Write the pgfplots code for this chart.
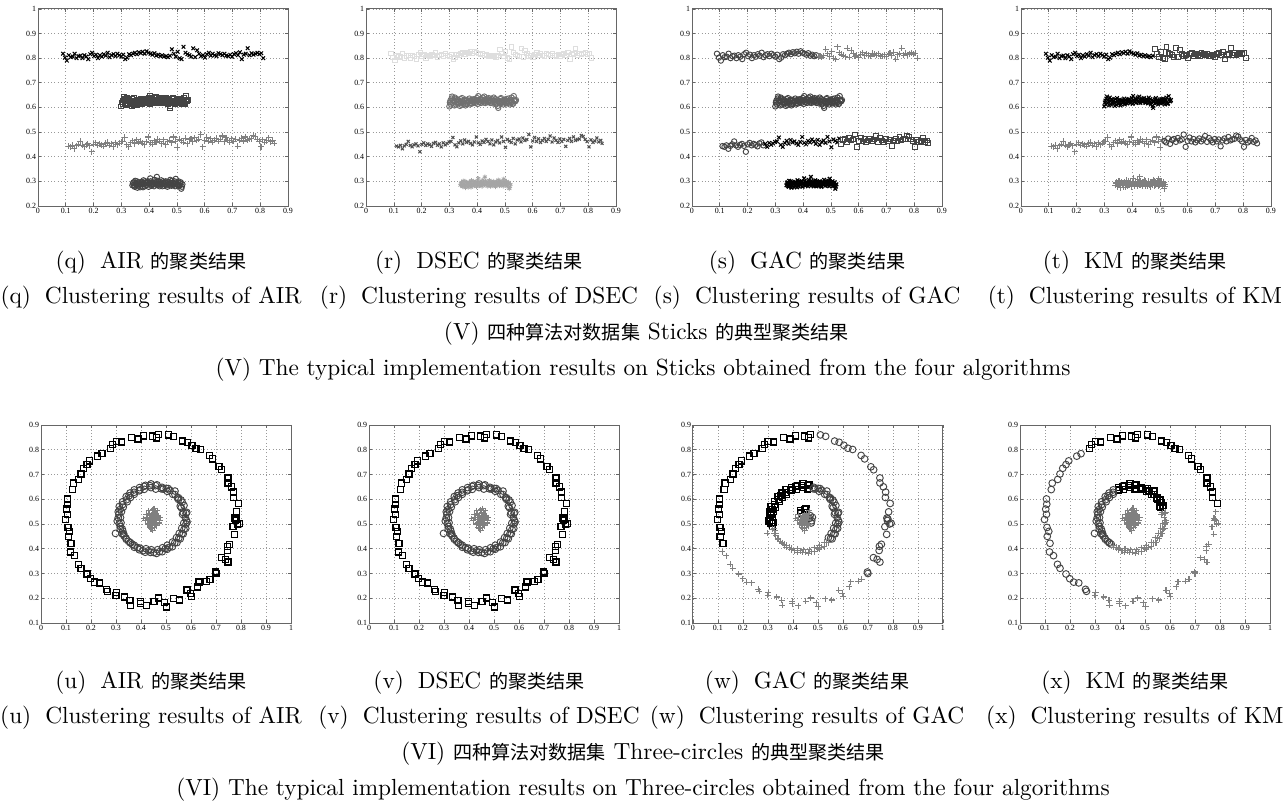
\documentclass[border=0pt]{standalone}
\usepackage{fontspec}
\usepackage{pgfplots}
\usepackage{pgfplotstable}
\pgfplotsset{compat=1.18}
\newfontfamily\cjk[Scale=0.82]{Noto Sans CJK SC}
\newfontfamily\tickfont{Liberation Serif}
\definecolor{cdk}{RGB}{68,68,68}
\definecolor{cmd}{RGB}{128,128,128}
\definecolor{clt}{RGB}{222,222,222}
\definecolor{cdm}{RGB}{112,112,112}
\definecolor{cdx}{RGB}{80,80,80}
\definecolor{cas}{RGB}{165,165,165}

\pgfplotstableread{
x y
.090 .818
.097 .802
.104 .790
.111 .812
.118 .804
.125 .806
.132 .818
.139 .800
.146 .808
.153 .810
.160 .800
.167 .812
.174 .806
.181 .796
.188 .816
.195 .822
.202 .808
.209 .814
.216 .800
.223 .812
.230 .806
.237 .816
.244 .810
.251 .822
.258 .804
.265 .812
.272 .816
.279 .808
.286 .818
.293 .812
.300 .806
.307 .814
.314 .796
.321 .802
.328 .816
.335 .812
.342 .818
.349 .822
.356 .816
.363 .824
.370 .820
.377 .826
.384 .818
.391 .828
.398 .822
.405 .818
.412 .814
.419 .820
.426 .810
.433 .814
.440 .808
.447 .812
.454 .806
.461 .808
.468 .804
.475 .810
.482 .836
.489 .818
.496 .806
.503 .826
.510 .800
.517 .796
.524 .846
.531 .822
.538 .816
.545 .812
.552 .806
.559 .840
.566 .804
.573 .832
.580 .818
.587 .808
.594 .812
.601 .802
.608 .816
.615 .822
.622 .810
.629 .818
.636 .812
.643 .808
.650 .820
.657 .816
.664 .812
.671 .818
.678 .810
.685 .808
.692 .814
.699 .806
.706 .816
.713 .820
.720 .812
.727 .824
.734 .796
.741 .814
.748 .818
.755 .840
.762 .812
.769 .820
.776 .814
.783 .818
.790 .822
.797 .816
.804 .820
.811 .800
}\sA

\pgfplotstableread{
x y
.300 .604
.304 .628
.308 .636
.312 .618
.316 .624
.320 .640
.324 .612
.328 .630
.332 .622
.336 .616
.340 .634
.344 .610
.348 .626
.352 .620
.356 .632
.360 .614
.364 .628
.368 .622
.372 .636
.376 .618
.380 .626
.384 .632
.388 .620
.392 .630
.396 .624
.400 .638
.404 .646
.408 .622
.412 .634
.416 .628
.420 .640
.424 .620
.428 .632
.432 .626
.436 .636
.440 .624
.444 .630
.448 .618
.452 .634
.456 .626
.460 .640
.464 .622
.468 .612
.472 .630
.476 .598
.480 .626
.484 .634
.488 .618
.492 .628
.496 .622
.500 .632
.504 .616
.508 .626
.512 .636
.516 .620
.520 .628
.524 .640
.528 .614
.532 .646
.536 .624
.540 .630
.302 .620
.306 .612
.310 .644
.314 .630
.318 .608
.322 .626
.326 .634
.330 .616
.334 .628
.338 .606
.342 .622
.346 .638
.350 .614
.354 .626
.358 .608
.362 .630
.366 .618
.370 .626
.374 .612
.378 .630
.382 .616
.386 .628
.390 .634
.394 .618
.398 .628
.402 .614
.406 .630
.410 .624
.414 .618
.418 .632
.422 .626
.426 .644
.430 .618
.434 .630
.438 .622
.442 .638
.446 .626
.450 .620
.454 .632
.458 .616
.462 .628
.466 .634
.470 .620
.474 .606
.478 .624
.482 .616
.486 .638
.490 .622
.494 .612
.498 .628
.502 .620
.506 .634
.510 .618
.514 .626
.518 .612
.522 .630
.526 .622
.530 .616
.534 .632
.538 .626
}\sB

\pgfplotstableread{
x y
.110 .443
.117 .440
.124 .446
.131 .432
.138 .444
.145 .450
.152 .462
.159 .446
.166 .440
.173 .448
.180 .452
.187 .444
.194 .420
.201 .450
.208 .456
.215 .446
.222 .452
.229 .448
.236 .442
.243 .454
.250 .458
.257 .446
.264 .452
.271 .440
.278 .456
.285 .448
.292 .454
.299 .460
.306 .462
.313 .478
.320 .448
.327 .440
.334 .456
.341 .464
.348 .452
.355 .468
.362 .458
.369 .462
.376 .454
.383 .448
.390 .460
.397 .480
.404 .456
.411 .450
.418 .464
.425 .458
.432 .470
.439 .462
.446 .452
.453 .468
.460 .448
.467 .460
.474 .466
.481 .456
.488 .480
.495 .462
.502 .438
.509 .470
.516 .464
.523 .458
.530 .474
.537 .452
.544 .468
.551 .472
.558 .460
.565 .476
.572 .466
.579 .470
.586 .490
.593 .440
.600 .464
.607 .478
.614 .462
.621 .472
.628 .458
.635 .466
.642 .474
.649 .462
.656 .470
.663 .484
.670 .460
.677 .476
.684 .466
.691 .458
.698 .472
.705 .462
.712 .470
.719 .442
.726 .466
.733 .474
.740 .462
.747 .480
.754 .466
.761 .470
.768 .472
.775 .486
.782 .482
.789 .470
.796 .462
.803 .440
.810 .468
.817 .458
.824 .464
.831 .476
.838 .460
.845 .466
.850 .454
}\sC

\pgfplotstableread{
x y
.340 .284
.344 .296
.348 .278
.352 .290
.356 .300
.360 .282
.364 .292
.368 .276
.372 .298
.376 .288
.380 .304
.384 .280
.388 .294
.392 .286
.396 .300
.400 .290
.404 .312
.408 .282
.412 .296
.416 .288
.420 .306
.424 .292
.428 .318
.432 .284
.436 .298
.440 .290
.444 .304
.448 .280
.452 .294
.456 .288
.460 .300
.464 .284
.468 .296
.472 .290
.476 .306
.480 .282
.484 .294
.488 .288
.492 .300
.496 .310
.500 .286
.504 .296
.508 .280
.512 .292
.516 .270
.520 .288
.342 .292
.346 .282
.350 .302
.354 .286
.358 .274
.362 .296
.366 .288
.370 .282
.374 .294
.378 .276
.382 .290
.386 .300
.390 .284
.394 .296
.398 .278
.402 .292
.406 .300
.410 .286
.414 .294
.418 .280
.422 .296
.426 .286
.430 .302
.434 .290
.438 .280
.442 .296
.446 .288
.450 .300
.454 .282
.458 .296
.462 .290
.466 .278
.470 .298
.474 .286
.478 .294
.482 .302
.486 .284
.490 .292
.494 .280
.498 .296
.502 .288
.506 .300
.510 .284
.514 .296
.518 .278
}\sD

\pgfplotstableread{
x y a g k
.793 .503 1 2 3
.783 .549 1 2 3
.789 .583 1 2 1
.770 .607 1 2 1
.771 .629 1 2 1
.762 .650 1 2 1
.748 .666 1 2 1
.748 .686 1 2 1
.723 .719 1 2 1
.712 .731 1 2 1
.687 .763 1 2 1
.673 .777 1 2 1
.639 .801 1 2 1
.620 .806 1 2 1
.604 .818 1 2 1
.585 .830 1 2 1
.567 .835 1 2 1
.531 .854 1 2 1
.510 .860 1 2 1
.471 .862 1 1 1
.462 .848 1 1 1
.447 .855 1 1 1
.410 .856 1 1 1
.388 .843 1 1 1
.362 .850 1 1 1
.323 .831 1 1 1
.301 .832 1 1 1
.286 .821 1 1 1
.277 .804 1 1 1
.244 .784 1 1 2
.227 .774 1 1 2
.195 .755 1 1 2
.184 .740 1 1 2
.171 .725 1 1 2
.160 .702 1 1 2
.151 .680 1 1 2
.129 .665 1 1 2
.125 .639 1 1 2
.106 .601 1 1 2
.107 .580 1 1 2
.103 .560 1 1 2
.106 .539 1 1 2
.098 .518 1 1 2
.108 .486 1 1 2
.115 .470 1 1 2
.109 .450 1 1 2
.120 .422 1 1 2
.118 .387 1 3 2
.134 .372 1 3 2
.150 .337 1 3 2
.160 .321 1 3 2
.184 .298 1 3 2
.199 .279 1 3 2
.215 .265 1 3 2
.235 .262 1 3 2
.262 .236 1 3 2
.266 .228 1 3 2
.300 .212 1 3 3
.302 .222 1 3 3
.335 .205 1 3 3
.358 .172 1 3 3
.356 .192 1 3 3
.398 .188 1 3 3
.397 .178 1 3 3
.422 .170 1 3 3
.452 .188 1 3 3
.471 .201 1 3 3
.494 .182 1 3 3
.502 .165 1 3 3
.530 .198 1 3 3
.555 .193 1 3 3
.584 .233 1 3 3
.598 .220 1 3 3
.601 .206 1 3 3
.625 .246 1 3 3
.632 .266 1 3 3
.662 .268 1 3 3
.676 .276 1 3 3
.698 .306 1 2 3
.700 .300 1 2 3
.722 .364 1 2 3
.737 .357 1 2 3
.748 .346 1 2 3
.745 .393 1 2 3
.746 .410 1 2 3
.754 .418 1 2 3
.775 .458 1 2 3
.768 .489 1 2 3
.787 .500 1 2 3
.778 .514 1 2 3
.776 .524 1 2 3
.780 .520 1 2 3
.582 .514 2 2 3
.566 .539 2 2 3
.583 .547 2 2 3
.569 .546 2 2 3
.572 .575 2 2 1
.557 .572 2 2 1
.565 .588 2 2 1
.550 .606 2 2 1
.550 .599 2 2 1
.536 .619 2 2 1
.536 .633 2 2 1
.516 .636 2 2 1
.501 .644 2 2 1
.505 .632 2 2 1
.484 .648 2 2 1
.481 .642 2 2 1
.464 .658 2 1 1
.459 .641 2 1 1
.440 .662 2 1 1
.440 .647 2 1 1
.418 .656 2 1 1
.413 .640 2 1 1
.394 .647 2 1 1
.393 .634 2 1 1
.373 .638 2 1 2
.373 .620 2 1 2
.356 .625 2 1 2
.358 .607 2 1 2
.341 .611 2 1 2
.345 .590 2 1 2
.327 .590 2 1 2
.329 .568 2 1 2
.313 .571 2 1 2
.322 .550 2 1 2
.309 .549 2 1 2
.318 .526 2 1 2
.309 .525 2 1 2
.320 .505 2 1 2
.313 .501 2 1 2
.325 .480 2 3 2
.317 .479 2 3 2
.331 .460 2 3 2
.325 .460 2 3 2
.341 .438 2 3 2
.340 .443 2 3 2
.358 .423 2 3 2
.357 .425 2 3 2
.373 .406 2 3 3
.373 .414 2 3 3
.393 .396 2 3 3
.396 .402 2 3 3
.417 .386 2 3 3
.420 .400 2 3 3
.438 .385 2 3 3
.441 .396 2 3 3
.462 .381 2 3 3
.466 .396 2 3 3
.485 .388 2 3 3
.486 .404 2 3 3
.505 .398 2 3 3
.505 .414 2 3 3
.525 .408 2 3 3
.526 .427 2 3 3
.544 .425 2 3 3
.542 .445 2 2 3
.557 .440 2 2 3
.553 .462 2 2 3
.569 .460 2 2 3
.563 .483 2 2 3
.579 .482 2 2 3
.571 .503 2 2 3
.584 .507 2 2 3
.577 .526 2 2 3
.580 .543 2 2 3
.561 .566 2 2 1
.560 .597 2 2 1
.546 .605 2 2 1
.527 .620 2 2 1
.509 .643 2 2 1
.489 .641 2 2 1
.458 .655 2 1 1
.436 .655 2 1 1
.412 .652 2 1 1
.396 .638 2 1 1
.372 .628 2 1 2
.352 .614 2 1 2
.342 .598 2 1 2
.326 .578 2 1 2
.316 .558 2 1 2
.312 .540 2 1 2
.305 .512 2 1 2
.318 .490 2 1 2
.327 .472 2 3 2
.332 .452 2 3 2
.350 .430 2 3 2
.365 .418 2 3 2
.386 .405 2 3 3
.408 .392 2 3 3
.430 .392 2 3 3
.451 .385 2 3 3
.474 .388 2 3 3
.497 .400 2 3 3
.514 .406 2 3 3
.535 .424 2 3 3
.551 .443 2 2 3
.564 .461 2 2 3
.572 .478 2 2 3
.580 .500 2 2 3
.298 .462 2 3 2
.438 .534 3 3 3
.454 .527 3 3 3
.444 .509 3 3 3
.462 .540 3 3 3
.432 .517 3 3 3
.450 .547 3 1 3
.467 .523 3 2 3
.424 .527 3 3 3
.458 .500 3 3 3
.439 .493 3 3 3
.447 .558 3 1 3
.475 .513 3 2 3
.417 .513 3 3 3
.435 .544 3 1 3
.454 .486 3 3 3
.465 .554 3 3 3
.428 .500 3 3 3
.443 .523 3 3 3
.459 .513 3 3 3
.469 .534 3 2 3
.421 .540 3 3 3
.448 .536 3 3 3
.434 .507 3 3 3
.452 .563 3 1 3
.478 .527 3 2 3
.440 .480 3 3 3
.462 .493 3 3 3
.411 .523 3 3 3
.446 .500 3 3 3
.456 .544 3 3 3
.431 .554 3 1 3
.473 .504 3 2 3
.442 .531 3 3 3
.451 .517 3 3 3
.463 .529 3 3 3
.436 .486 3 3 3
.447 .473 3 3 3
.445 .520 3 3 3
.455 .530 3 3 3
.438 .525 3 3 3
.450 .505 3 3 3
.460 .518 3 3 3
}\ring

\pgfplotsset{
  mat/.style={scale only axis, anchor=south west, width=107.3pt,
    grid=major, major grid style={densely dotted, black!40, line width=0.25pt},
    axis line style={black!60, line width=0.35pt},
    tick align=inside, major tick length=1.2pt,
    tick style={black!60, line width=0.25pt},
    ticklabel style={font=\tickfont\fontsize{3.4}{4}\selectfont, inner sep=0.6pt},
    /pgf/number format/assume math mode=true},
  sticks/.style={mat, height=84.6pt, xmin=0, xmax=0.9, ymin=0.2, ymax=1,
    xtick={0,0.1,0.2,0.3,0.4,0.5,0.6,0.7,0.8,0.9},
    ytick={0.2,0.3,0.4,0.5,0.6,0.7,0.8,0.9,1}},
  rings/.style={mat, height=85pt, xmin=0, xmax=1, ymin=0.1, ymax=0.9,
    xtick={0,0.1,0.2,0.3,0.4,0.5,0.6,0.7,0.8,0.9,1},
    ytick={0.1,0.2,0.3,0.4,0.5,0.6,0.7,0.8,0.9}},
  sq/.style={only marks, mark=square, mark size=#1, mark options={line width=0.4pt}},
  sq/.default=1.05pt,
  ci/.style={only marks, mark=o, mark size=#1, mark options={line width=0.4pt}},
  ci/.default=1.15pt,
  xx/.style={only marks, mark=x, mark size=#1, mark options={line width=0.45pt}},
  xx/.default=1.1pt,
  pl/.style={only marks, mark=+, mark size=#1, mark options={line width=0.45pt}},
  pl/.default=1.3pt,
  as/.style={only marks, mark=asterisk, mark size=#1, mark options={line width=0.35pt}},
  as/.default=1.0pt,
  sel/.style={restrict y to domain=0:1},
}

\begin{document}
\begin{tikzpicture}
\useasboundingbox (0,0) rectangle (552.4pt,-345.5pt);

% ---------- Sticks ----------
\begin{axis}[sticks, at={(16.3pt,-88.4pt)}]
\addplot[xx, black] table {\sA};
\addplot[sq, cdk] table {\sB};
\addplot[pl, cmd] table {\sC};
\addplot[ci, cdk] table {\sD};
\end{axis}

\begin{axis}[sticks, at={(157.1pt,-88.4pt)}]
\addplot[sq=0.95pt, clt] table {\sA};
\addplot[ci, cdm] table {\sB};
\addplot[xx=0.9pt, cdx] table {\sC};
\addplot[as, cas] table {\sD};
\end{axis}

\begin{axis}[sticks, at={(297.0pt,-88.4pt)}]
\addplot[ci, cdk, restrict x to domain=0:0.45] table {\sA};
\addplot[pl, cmd, restrict x to domain=0.45:1] table {\sA};
\addplot[ci, cdk] table {\sB};
\addplot[ci, cdk, restrict x to domain=0:0.26] table {\sC};
\addplot[xx, black, restrict x to domain=0.26:0.533] table {\sC};
\addplot[sq, cdk, restrict x to domain=0.533:1] table {\sC};
\addplot[xx, black, mark options={line width=0.55pt}] table {\sD};
\end{axis}

\begin{axis}[sticks, at={(438.2pt,-88.4pt)}]
\addplot[xx, black, restrict x to domain=0:0.478] table {\sA};
\addplot[sq, cdk, restrict x to domain=0.478:1] table {\sA};
\addplot[xx, black] table {\sB};
\addplot[pl, cmd, restrict x to domain=0:0.512] table {\sC};
\addplot[ci, cdk, restrict x to domain=0.512:1] table {\sC};
\addplot[pl, cmd] table {\sD};
\end{axis}

% ---------- Three-circles ----------
\begin{axis}[rings, at={(17.6pt,-267.4pt)}]
\addplot[sq=1.3pt, black, mark options={line width=0.55pt}, sel] table[x=x, y expr={ifthenelse(\thisrow{a}==1,\thisrow{y},5)}] {\ring};
\addplot[ci=1.45pt, cdk, sel] table[x=x, y expr={ifthenelse(\thisrow{a}==2,\thisrow{y},5)}] {\ring};
\addplot[pl=1.2pt, cmd, sel] table[x=x, y expr={ifthenelse(\thisrow{a}==3,\thisrow{y},5)}] {\ring};
\end{axis}

\begin{axis}[rings, at={(158.4pt,-267.4pt)}]
\addplot[sq=1.3pt, black, mark options={line width=0.55pt}, sel] table[x=x, y expr={ifthenelse(\thisrow{a}==1,\thisrow{y},5)}] {\ring};
\addplot[ci=1.45pt, cdk, sel] table[x=x, y expr={ifthenelse(\thisrow{a}==2,\thisrow{y},5)}] {\ring};
\addplot[pl=1.2pt, cmd, sel] table[x=x, y expr={ifthenelse(\thisrow{a}==3,\thisrow{y},5)}] {\ring};
\end{axis}

\begin{axis}[rings, at={(297.4pt,-267.4pt)}]
\addplot[sq=1.3pt, black, mark options={line width=0.55pt}, sel] table[x=x, y expr={ifthenelse(\thisrow{g}==1,\thisrow{y},5)}] {\ring};
\addplot[ci=1.45pt, cdk, sel] table[x=x, y expr={ifthenelse(\thisrow{g}==2,\thisrow{y},5)}] {\ring};
\addplot[pl=1.3pt, cmd, sel] table[x=x, y expr={ifthenelse(\thisrow{g}==3,\thisrow{y},5)}] {\ring};
\end{axis}

\begin{axis}[rings, at={(437.8pt,-267.4pt)}]
\addplot[sq=1.3pt, black, mark options={line width=0.55pt}, sel] table[x=x, y expr={ifthenelse(\thisrow{k}==1,\thisrow{y},5)}] {\ring};
\addplot[ci=1.45pt, cdk, sel] table[x=x, y expr={ifthenelse(\thisrow{k}==2,\thisrow{y},5)}] {\ring};
\addplot[pl=1.3pt, cmd, sel] table[x=x, y expr={ifthenelse(\thisrow{k}==3,\thisrow{y},5)}] {\ring};
\end{axis}

% ---------- Captions ----------
\node at (64.8pt,-112.9pt) {(q)\hspace{6pt}AIR {\cjk 的聚类结果}};
\node at (205.6pt,-112.9pt) {(r)\hspace{6pt}DSEC {\cjk 的聚类结果}};
\node at (346.4pt,-112.9pt) {(s)\hspace{6pt}GAC {\cjk 的聚类结果}};
\node at (487.1pt,-112.9pt) {(t)\hspace{6pt}KM {\cjk 的聚类结果}};
\node at (64.8pt,-127.9pt) {(q)\hspace{6pt}Clustering results of AIR};
\node at (205.6pt,-127.9pt) {(r)\hspace{6pt}Clustering results of DSEC};
\node at (346.4pt,-127.9pt) {(s)\hspace{6pt}Clustering results of GAC};
\node at (487.1pt,-127.9pt) {(t)\hspace{6pt}Clustering results of KM};
\node at (277.5pt,-143.4pt) {(V) {\cjk 四种算法对数据集} Sticks {\cjk 的典型聚类结果}};
\node at (276.0pt,-158.8pt) {(V) The typical implementation results on Sticks obtained from the four algorithms};

\node at (64.8pt,-293.1pt) {(u)\hspace{6pt}AIR {\cjk 的聚类结果}};
\node at (205.6pt,-293.1pt) {(v)\hspace{6pt}DSEC {\cjk 的聚类结果}};
\node at (346.4pt,-293.1pt) {(w)\hspace{6pt}GAC {\cjk 的聚类结果}};
\node at (487.1pt,-293.1pt) {(x)\hspace{6pt}KM {\cjk 的聚类结果}};
\node at (64.8pt,-308.2pt) {(u)\hspace{6pt}Clustering results of AIR};
\node at (205.6pt,-308.2pt) {(v)\hspace{6pt}Clustering results of DSEC};
\node at (346.4pt,-308.2pt) {(w)\hspace{6pt}Clustering results of GAC};
\node at (487.1pt,-308.2pt) {(x)\hspace{6pt}Clustering results of KM};
\node at (276.0pt,-323.6pt) {(VI) {\cjk 四种算法对数据集} Three-circles {\cjk 的典型聚类结果}};
\node at (276.0pt,-339.1pt) {(VI) The typical implementation results on Three-circles obtained from the four algorithms};
\end{tikzpicture}
\end{document}
